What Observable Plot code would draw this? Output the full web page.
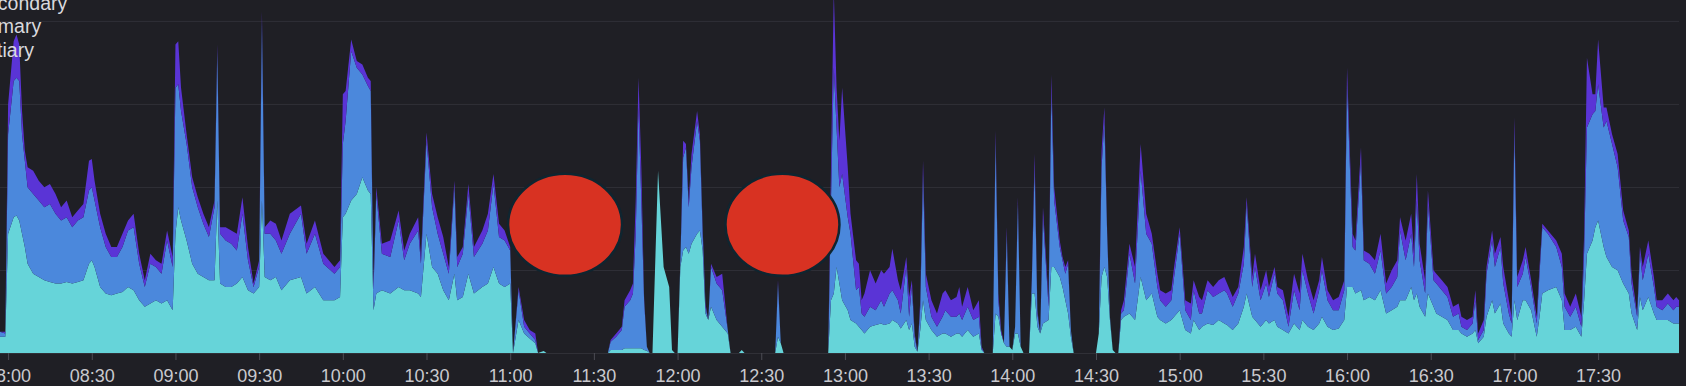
<!DOCTYPE html>
<html><head><meta charset="utf-8">
<script src="https://cdn.jsdelivr.net/npm/d3@7"></script>
<script src="https://cdn.jsdelivr.net/npm/@observablehq/plot@0.6"></script>
<style>
html, body { margin:0; padding:0; background:#1f1f25; overflow:hidden; }
#wrap { position:relative; width:1686px; height:386px; overflow:hidden; }
g[aria-label="x-axis tick label"] { fill:#c9c9ce; }
g[aria-label="x-axis tick"] { stroke:#4c4c54; }
</style></head>
<body><div id="wrap"></div>
<script>
// ---- data ----
const times = [
"07:57","07:59","08:00","08:02","08:03","08:04","08:05","08:06","08:07","08:09",
"08:11","08:13","08:15","08:17","08:19","08:21","08:23","08:25","08:27","08:29",
"08:30","08:31","08:33","08:35","08:37","08:39","08:41","08:43","08:45","08:47",
"08:49","08:51","08:53","08:55","08:57","08:59","09:00","09:01","09:02","09:04",
"09:06","09:08","09:10","09:12","09:14","09:15","09:16","09:18","09:20","09:22",
"09:24","09:26","09:28","09:30","09:31","09:32","09:34","09:36",
"09:38","09:41","09:45","09:47","09:50","09:53","09:57","09:59","10:00","10:01",
"10:03","10:05","10:07","10:09","10:10","10:11","10:12","10:14","10:17","10:20",
"10:22","10:24","10:27","10:28","10:30","10:32","10:34","10:36","10:38","10:40",
"10:41","10:43","10:45","10:47","10:50","10:52","10:54","10:56","10:58","11:00",
"11:01","11:03","11:05","11:07","11:09","11:10","11:12","11:13",
"11:35","11:36","11:38","11:40","11:41","11:43","11:44","11:45","11:46","11:47",
"11:48","11:49","11:50","11:51","11:53","11:55","11:56","11:57","11:58","11:59",
"12:00","12:01","12:02","12:03","12:04","12:05","12:07","12:08","12:09","12:10",
"12:11","12:12","12:14","12:16","12:18","12:19","12:22","12:23","12:24","12:35",
"12:36","12:37","12:38","12:54","12:55","12:56","12:57","12:58",
"12:59","13:01","13:02","13:04","13:05","13:06","13:07","13:09","13:11","13:13",
"13:14","13:16","13:17","13:19","13:20","13:22","13:23","13:24","13:25","13:26",
"13:27","13:28","13:29","13:31","13:33","13:35","13:36","13:38","13:40","13:41",
"13:42","13:44","13:46","13:48","13:49","13:50","13:53","13:54","13:55","13:56",
"13:57","13:58","13:59","14:00","14:01","14:02","14:03","14:04","14:06","14:07",
"14:08","14:09","14:10","14:11","14:13","14:14","14:15","14:17","14:18","14:19",
"14:20","14:21","14:22","14:30","14:31","14:32","14:33","14:34","14:35","14:36",
"14:37","14:38","14:39",
"14:40","14:42","14:44","14:46","14:48","14:50","14:52","14:53","14:55","14:57",
"14:58","15:00","15:02","15:04","15:05","15:07","15:08","15:10","15:12","15:14",
"15:16","15:17","15:19","15:21","15:23","15:24","15:26","15:27","15:29","15:31",
"15:32","15:34","15:35","15:37","15:39","15:41","15:43","15:44","15:46","15:48",
"15:50","15:51","15:53","15:55","15:57","15:59","16:00","16:02","16:03","16:05",
"16:06","16:08","16:10","16:12","16:14","16:16","16:18","16:19","16:21",
"16:23","16:24","16:25","16:26","16:28","16:29","16:31","16:32","16:34","16:36",
"16:38","16:40","16:41","16:43","16:45","16:46","16:47","16:49","16:50","16:52",
"16:53","16:55","16:56","16:58","16:59","17:00","17:01","17:03","17:04","17:06",
"17:08","17:09","17:10","17:12","17:15","17:17","17:18","17:20","17:22","17:24",
"17:25","17:26","17:28","17:29","17:30","17:32","17:33","17:35","17:37","17:39",
"17:41","17:42","17:44","17:45","17:46","17:48","17:50","17:51","17:53","17:55",
"17:57","17:58","17:59"
];
const tertiary = [
4.9,4.9,35.9,40.9,41.4,39.9,35.9,31.9,26.9,23.9,
22.9,21.9,21.4,20.9,20.9,21.4,20.9,21.4,21.9,26.9,
27.9,25.9,19.9,17.9,17.4,17.9,18.4,19.9,18.9,15.9,
13.9,14.9,15.9,14.9,15.9,12.9,35.9,43.9,39.9,33.9,
26.9,23.9,22.9,21.9,21.9,45.9,20.9,19.9,19.9,20.9,
22.9,18.9,17.9,19.9,45.9,22.9,21.9,22.9,
18.9,21.9,22.9,17.9,19.9,15.9,15.9,16.9,40.9,41.9,
45.9,47.9,52.9,48.9,47.9,12.9,17.9,18.9,17.9,19.9,
18.9,18.9,17.9,16.9,35.9,25.9,23.9,18.9,15.9,23.9,
15.9,16.9,23.9,17.9,19.9,20.9,25.9,20.9,19.9,20.9,
0,9.9,5.9,4.4,2.9,0,0.6,0,
0,0.9,0.9,0.9,1.4,1.4,1.4,1.4,1.4,1.4,
0.9,0.7,0,0,54.9,25.9,22.9,19.9,0.9,0,
0,25.9,30.9,31.9,29.9,32.9,35.9,36.9,30.9,11.9,
9.9,13.9,9.9,7.9,5.9,0,0,0.9,0,0,
4.9,2.9,0,0,15.9,17.9,25.9,20.9,
15.9,12.9,9.9,8.9,7.9,6.9,5.9,7.9,8.4,8.9,
8.4,8.9,9.9,8.9,7.4,9.9,6.9,8.9,1.9,0.4,
6.9,15.9,9.9,6.9,4.9,5.9,5.9,4.9,5.9,5.9,
4.9,6.9,4.9,5.9,0.9,0,0,11.9,10.9,5.9,
2.9,1.9,1.9,0.9,5.9,5.9,1.9,0,0,17.9,
17.9,7.9,5.9,8.9,9.9,25.9,25.9,22.9,19.9,15.9,
11.9,4.9,0,0,5.9,22.9,25.9,22.9,9.9,0.9,
0,0,9.9,
10.9,11.9,9.9,22.9,15.9,17.9,10.9,9.9,8.9,9.9,
10.9,12.9,6.9,5.9,9.9,6.9,7.9,8.9,8.4,9.9,
8.9,8.4,6.9,8.9,13.9,17.9,10.9,9.9,7.9,9.9,
8.9,9.9,7.9,6.9,5.9,8.9,6.9,9.9,7.9,6.9,
8.9,10.9,7.9,6.9,7.4,9.9,19.9,19.9,17.9,18.9,
15.9,16.9,15.9,18.9,11.9,12.9,13.9,15.9,15.9,
19.9,15.9,17.9,13.9,10.9,17.9,13.9,11.9,10.9,9.9,
6.9,6.9,5.9,4.9,5.9,6.9,2.9,4.9,10.9,15.9,
11.9,14.9,8.9,5.9,4.9,15.9,9.9,15.9,15.9,12.9,
4.9,10.9,17.9,18.9,19.9,15.9,6.9,6.9,7.9,4.9,
15.9,29.9,33.9,37.9,39.9,31.9,28.9,25.9,24.9,20.9,
17.9,11.9,6.9,16.9,12.9,16.9,11.9,9.9,9.9,9.9,
8.9,8.9,8.9
];
const primary = [
1.5,1,30,41,41.5,42,30,26,23,24,
23,22,23.5,21,19,19.5,17,18.5,19,22,
22,20,18,14,11.5,11,13.5,17,19,11,
6,12,10,9,18,13,44,37,33,29,
23,20,16,13,22,45,15,14,13,10,
19,9,2,6,54,13,14,11,
11,14,19,12,16,11,8,9,22,28,
45,38,31,31.5,31,6,30,11,11,20,
9,14,19,10,28,18,12,11,8,26,
10,13,24,11,13,16,25,14,14,10,
0,9,2,1.5,1,0,0,0,
0,2.5,4,6,12.5,14.5,16.5,34.5,72.5,44.5,
15,1.2,0,0,0,0,0,0,0,0,
0,2,28,30,14,23,34,27,5,2,
0,12,11,11,1,0,0,0,0,0,
16,0,0,0,30,68,42,29,
38,28,26,10,12,5,5,6,4.5,7,
5.5,9,9,7,4.5,16,4,11,3,0,
7,38,10,4,3,5,7,6,5,6,
5,7,5,5,0.5,0,0,52,5,0,
0,34,0,0,2,39,0,0,0,4,
38,4,0,32,4,53,20,9,8,8,
15,2,0,0,0,33,44,13,1,0,
0,0,2,
2,18,11,32,20,15,9,6,5,6,
12,23,6,4,9,5,4,10,8.5,8,
10,9.5,7,9,13,27,9,16,8,11,
8,14,10,9,2,10,6,15,10,5,
10,14,8,6,5.5,9,61,12,13,39,
12,10,8,12,6,7,9,21,12,
16,10,28,14,7,27,8,9,8,7,
4,5,2,2,3,9,1,2,13,18,
14,17,12,6,4,51,10,8,13,7,
4,13,20,17,12,10,7,4,6,3,
15,38,38,35,41,36,41,37,31,19,
17,9,4,13,9,13,8,4,3,5,
4,5,5
];
const secondary = [
0,0.5,9,12,13,11,7,3,6,7,
6,6,6,6,4,5,3,3,4,9,
8.5,6,4,4,3,3,4,3,4,3,
2,3,2,3,3,3,13,13,7,3,
3,3,3,3,2,2,2,4,4,5,
5,4,1,2,3,2,4,5,
4,6,2.5,3,4,3,2,2,15,9,
3.5,2,3,2.5,3,2,2,3,5,3,
3,3,4,2,2.5,4,5,5,2,2,
3,2,3,3,4,5,3,4,3,1,
0,1,2,1,2,0,0,0,
0,0.5,1,1,2,3,3,10,9,10,
1,0,0,0,0,0,0,0,0,0,
0,0,5,1,2,4,3,2,2,1,
0,1,2,5,0,0,0,0,0,0,
1,0,0,0,10,23,12,14,
26,15,6,9,7,4,7,11,8,9,
10,8,12.5,6,7,3,6,2,1,0,
2,4,4,5,4,7,6,5,6,8,
4,6,3,5,0.5,0,0,3,2,1,
0,2,0,0,0,2,0,0,0,1,
4,1,0,3,2,5,4,2,1,2,
1,0,0,0,0,5,4,1,0,0,
0,0,1,
3,3,5,8,6,3,4,3,4,3,
3,2,3,5,3,5,4,3,3,4,
4,3,3,2,5,2,3,4,3,4,
3,2,2,3,3,5,5,5,4,4,
3,4,3,3,4,3,5,4,3,4,
3,3,4,5,3,5,5,4,6,
6,4,8,5,4,4,3,3,3,3,
3,3,3,3,2,3,2,3,2,3,
4,3,5,4,2,4,3,4,3,2,
2,2,1,1,2,4,4,3,4,3,
5,21,6,5,13.5,6,4,3,4,3,
2,3,1,2,4,4,3,2,3,3,
3,3,2
];
const stackOrder = ["Tertiary", "Primary", "Secondary"];
const seriesColors = ["#66d4d9", "#4b88dc", "#5a34d6"];
const legendItems = ["Secondary", "Primary", "Tertiary"];
const legendShift = [-26, -26, -30];
const xTickLabels = ["08:00","08:30","09:00","09:30","10:00","10:30","11:00","11:30","12:00","12:30",
  "13:00","13:30","14:00","14:30","15:00","15:30","16:00","16:30","17:00","17:30"];
const gridValues = [0, 25, 50, 75, 100];
const xDomain = ["07:57:06", "17:59:00"];
const yDomain = [0, 106.3];
const redactionTimes = ["11:19:40", "12:37:36"];
const redactionValues = [38.6, 38.6];

// ---- build ----
if (![tertiary, primary, secondary].every(a => a.length === times.length))
  throw new Error("length mismatch " + [times.length, tertiary.length, primary.length, secondary.length]);
const parseTime = s => new Date(`2024-01-02T${s.length === 5 ? s + ":00" : s}Z`);
const valueSets = {Tertiary: tertiary, Primary: primary, Secondary: secondary};
const rows = [];
times.forEach((t, i) => {
  for (const name of stackOrder) rows.push({time: parseTime(t), series: name, value: valueSets[name][i]});
});

const chart = Plot.plot({
  width: 1686, height: 386,
  marginTop: 0, marginRight: 7, marginBottom: 33, marginLeft: 0,
  style: {background: "#1f1f25", color: "#c9c9ce", fontFamily: "'Liberation Sans', Arial, sans-serif", fontSize: "18px"},
  x: {type: "utc", domain: xDomain.map(parseTime)},
  y: {domain: yDomain, axis: null},
  color: {domain: stackOrder, range: seriesColors},
  marks: [
    Plot.ruleY(gridValues, {stroke: "#303037", strokeWidth: 1}),
    Plot.areaY(rows, {x: "time", y: "value", z: "series", fill: "series",
      order: stackOrder, curve: "linear", clip: true}),
    Plot.axisX(xTickLabels.map(parseTime), {tickFormat: d3.utcFormat("%H:%M"), tickSize: 7, tickPadding: 9,
      stroke: "#4c4c54", fill: "#c9c9ce", label: null})
  ]
});

const sx = chart.scale("x"), sy = chart.scale("y");
const svg = d3.select(chart);
svg.append("g").selectAll("ellipse").data(redactionTimes).join("ellipse")
  .attr("cx", (d) => sx.apply(parseTime(d)))
  .attr("cy", (d, i) => sy.apply(redactionValues[i]))
  .attr("rx", 57).attr("ry", 51)
  .attr("fill", "#d83222").attr("stroke", "#0f2530").attr("stroke-width", 2.5);

svg.append("g").attr("font-size", 19.5).attr("fill", "#d9d9de").attr("text-anchor", "start")
  .attr("font-family", "'Liberation Sans', Arial, sans-serif")
  .selectAll("text").data(legendItems).join("text")
  .attr("x", (d, i) => legendShift[i]).attr("y", (d, i) => 9.5 + i * 23.5).text(d => d);

document.getElementById("wrap").appendChild(chart);
</script>
</body></html>
